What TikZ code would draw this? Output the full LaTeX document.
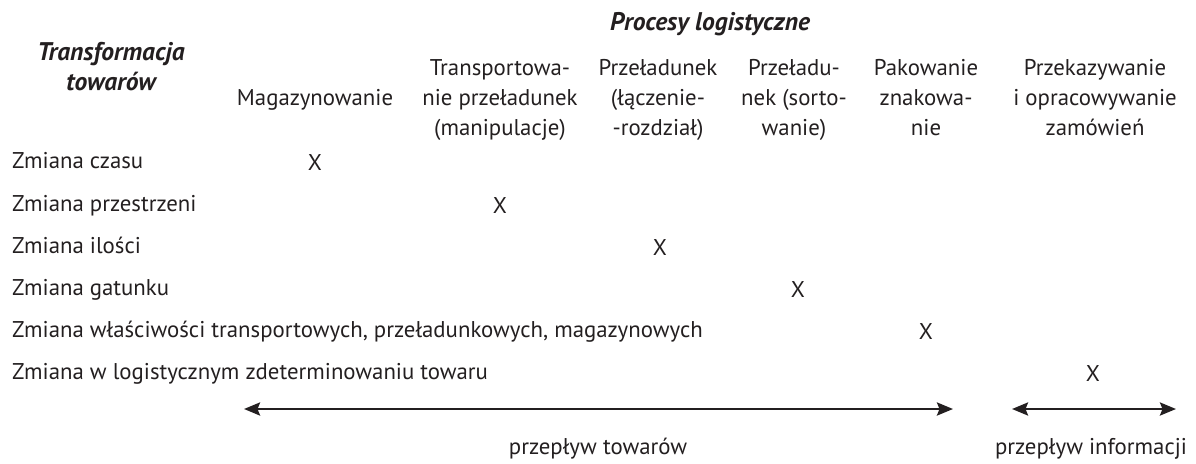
\documentclass[tikz,border=0pt]{standalone}
\usepackage{fontspec}
\setmainfont{PT Sans}
\usetikzlibrary{arrows.meta}
\definecolor{ink}{RGB}{35,31,32}
\begin{document}
\begin{tikzpicture}[x=1pt,y=-1pt,
  txt/.style={inner sep=0pt,anchor=base,text=ink,font=\fontsize{22.8}{30}\selectfont},
  head/.style={txt,align=center},
  title/.style={txt,font=\fontsize{25.5}{30}\selectfont\bfseries\itshape,align=center},
  rowlab/.style={txt,anchor=base west},
  xmark/.style={txt},
  flow/.style={draw=ink,line width=2.6pt,{Stealth[length=16pt,width=13pt,inset=2.5pt]}-{Stealth[length=16pt,width=13pt,inset=2.5pt]}}]
\useasboundingbox (0,0) rectangle (1196,463);
% titles (base anchor of a multi-line node sits on its last line)
\node[title] (proc) at (710,30) {Procesy logistyczne};
\node[title] (trans) at (111,90) {Transformacja\\towarów};
% column headings
\node[head] (c1) at (315,105) {Magazynowanie};
\node[head] (c2) at (500,135) {Transportowa-\\nie przeładunek\\(manipulacje)};
\node[head] (c3) at (658,135) {Przeładunek\\(łączenie-\\-rozdział)};
\node[head] (c4) at (794,135) {Przeładu-\\nek (sorto-\\wanie)};
\node[head] (c5) at (926,135) {Pakowanie\\znakowa-\\nie};
\node[head] (c6) at (1095,135) {Przekazywanie\\i opracowywanie\\zamówień};
% row labels
\node[rowlab] (r1) at (12,168) {Zmiana czasu};
\node[rowlab] (r2) at (12,211) {Zmiana przestrzeni};
\node[rowlab] (r3) at (12,253) {Zmiana ilości};
\node[rowlab] (r4) at (12,295) {Zmiana gatunku};
\node[rowlab] (r5) at (12,337) {Zmiana właściwości transportowych, przeładunkowych, magazynowych};
\node[rowlab] (r6) at (12,379) {Zmiana w logistycznym zdeterminowaniu towaru};
% marks
\node[xmark] (x1) at (315,170) {X};
\node[xmark] (x2) at (500,213) {X};
\node[xmark] (x3) at (660,255) {X};
\node[xmark] (x4) at (798,297) {X};
\node[xmark] (x5) at (926,339) {X};
\node[xmark] (x6) at (1093,381) {X};
% flows
\coordinate (g1) at (244,409);
\coordinate (g2) at (953,409);
\coordinate (i1) at (1012,409);
\coordinate (i2) at (1176,409);
\draw[flow] (g1) -- (g2);
\draw[flow] (i1) -- (i2);
\node[txt] (lg) at (598,454) {przepływ towarów};
\node[txt] (li) at (1091,454) {przepływ informacji};
\end{tikzpicture}
\end{document}
